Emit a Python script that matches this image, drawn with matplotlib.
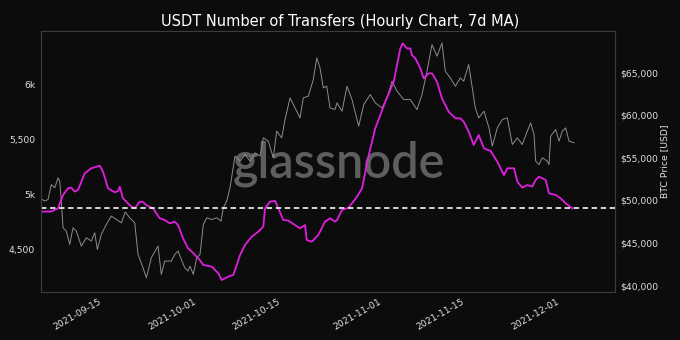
import numpy as np
import matplotlib
matplotlib.use('Agg')
import matplotlib.pyplot as plt
import matplotlib.dates as mdates
from matplotlib import ticker
import pandas as pd

# %%
# Datas em dias a partir de 2021-09-15
base_date = pd.Timestamp('2021-09-15')

usdt_days = [-10.47, -8.74, -7.56, -6.72, -5.88, -5.33, -4.76, -4.20, -3.08, -1.97,
             -0.55, 0.00, 0.84, 1.97, 2.52, 2.81, 3.36, 4.76, 5.33, 6.17,
             6.72, 7.28, 8.40, 9.53, 10.37, 11.21, 12.05, 12.61, 13.45, 14.29,
             14.91, 16.02, 16.86, 18.27, 19.38, 19.95, 21.06, 21.90, 22.47, 23.03,
             23.87, 24.99, 26.10, 26.94, 27.23, 28.07, 28.91, 29.46, 30.30, 31.14,
             32.27, 33.11, 33.95, 34.24, 35.08, 36.18, 37.31, 38.15, 38.99, 39.33,
             40.17, 41.29, 42.69, 43.53, 44.66, 45.76, 47.45, 48.86, 49.41, 49.97,
             50.37, 51.09, 51.65, 51.93, 52.49, 53.33, 53.90, 54.74, 55.29, 56.13,
             56.97, 58.10, 59.21, 60.05, 60.62, 61.46, 62.30, 63.14, 64.03, 65.16,
             66.27, 67.39, 67.95, 69.08, 69.63, 70.47, 71.31, 72.15, 72.72, 73.28,
             74.40, 74.96, 76.08, 76.92, 77.76, 78.87]
usdt_transfers = [4842, 4842, 4872, 4994, 5055, 5061, 5025, 5040, 5192, 5238,
                  5262, 5207, 5055, 5018, 5030, 5070, 4963, 4887, 4872, 4933,
                  4930, 4900, 4872, 4781, 4765, 4735, 4750, 4719, 4598, 4506,
                  4476, 4415, 4354, 4339, 4278, 4217, 4248, 4263, 4354, 4445,
                  4537, 4613, 4659, 4705, 4872, 4933, 4940, 4872, 4765, 4760,
                  4719, 4689, 4719, 4582, 4567, 4628, 4750, 4781, 4750, 4765,
                  4857, 4878, 4979, 5055, 5360, 5603, 5847, 6030, 6182, 6334,
                  6380, 6334, 6334, 6273, 6243, 6152, 6060, 6106, 6106, 6030,
                  5877, 5756, 5695, 5695, 5665, 5573, 5451, 5542, 5420, 5396,
                  5298, 5176, 5238, 5238, 5116, 5061, 5085, 5070, 5131, 5162,
                  5131, 5009, 4994, 4963, 4918, 4872]

btc_days = [-10.64, -9.80, -9.24, -8.69, -8.12, -7.56, -7.28, -7.01, -6.72, -6.17,
            -5.60, -5.04, -4.49, -3.65, -2.81, -1.97, -1.39, -0.96, -0.29, 0.55,
            1.39, 2.24, 3.08, 3.75, 4.49, 5.33, 5.88, 6.72, 7.28, 8.12,
            9.24, 9.80, 10.37, 11.48, 12.05, 12.61, 13.73, 14.29, 14.62, 15.18,
            15.75, 16.30, 16.86, 17.43, 18.27, 19.11, 19.83, 20.22, 20.79, 21.34,
            22.18, 23.03, 23.87, 24.71, 25.55, 26.39, 26.94, 27.78, 28.62, 29.19,
            30.03, 30.59, 31.43, 32.27, 33.11, 33.66, 34.50, 35.34, 35.92, 36.47,
            37.02, 37.60, 38.15, 38.99, 39.33, 40.17, 41.01, 41.85, 42.97, 43.82,
            44.92, 45.76, 46.89, 47.73, 48.57, 49.41, 50.54, 51.65, 52.77, 53.61,
            54.45, 55.29, 56.13, 56.97, 57.53, 58.37, 59.21, 60.05, 60.62, 61.46,
            62.02, 62.57, 63.14, 64.03, 64.87, 65.43, 66.27, 67.11, 67.95, 68.79,
            69.63, 70.47, 71.31, 71.88, 72.44, 72.72, 73.28, 73.83, 74.67, 74.96,
            75.24, 76.08, 76.64, 77.20, 77.76, 78.32, 79.16]
btc_price = [50317, 49930, 50117, 51878, 51491, 52665, 52278, 49930, 46795, 46407,
             44835, 46795, 46407, 44646, 45621, 45234, 46208, 44247, 46008, 47183,
             48168, 47770, 47382, 48638, 47969, 47382, 43660, 42099, 40925, 43273,
             44646, 41312, 42886, 42886, 43660, 44060, 42099, 41724, 42295, 41312,
             43273, 43660, 47183, 47969, 47770, 47969, 47582, 49143, 49930, 51491,
             55213, 54625, 55400, 54625, 55600, 55213, 57361, 56974, 55013, 58147,
             57361, 59509, 62057, 60883, 59709, 62057, 62257, 64205, 66753, 65579,
             63231, 63431, 60883, 60700, 61470, 60496, 63431, 61857, 58735, 61271,
             62445, 61470, 60883, 62057, 64018, 62844, 61857, 61857, 60684, 62445,
             65191, 68315, 66953, 68515, 65191, 64405, 63431, 64405, 64018, 65966,
             63431, 60883, 59709, 60496, 58535, 56387, 58535, 59509, 59709, 56574,
             57361, 56574, 58147, 59122, 57748, 54625, 54226, 55013, 54625, 54226,
             57561, 58335, 56974, 58147, 58535, 56974, 56774]

# nível atual (linha tracejada)
current_level = 4872

left_ticks = [4500, 5000, 5500, 6000]
left_labels = ['4,500', '5k', '5,500', '6k']
right_ticks = [40000, 45000, 50000, 55000, 60000, 65000]
x_ticks = ['2021-09-15', '2021-10-01', '2021-10-15', '2021-11-01', '2021-11-15', '2021-12-01']

# %%
usdt_dates = base_date + pd.to_timedelta(usdt_days, unit='D')
btc_dates = base_date + pd.to_timedelta(btc_days, unit='D')

bg = '#0c0c0c'
txt = '#e0e0e0'

fig = plt.figure(figsize=(6.8, 3.4), dpi=100, facecolor=bg)
ax2 = fig.add_axes([0.0599, 0.1412, 0.8445, 0.7685])
ax1 = ax2.twinx()
ax1.yaxis.tick_left()
ax2.yaxis.tick_right()
ax2.yaxis.set_label_position('right')
ax1.set_zorder(ax2.get_zorder() + 1)
ax1.patch.set_visible(False)
ax2.set_facecolor(bg)

# preço do BTC (cinza)
ax2.plot(btc_dates, btc_price, color='#8c8c8c', lw=0.7)
ax2.set_ylim(39250, 69950)
ax2.set_yticks(right_ticks)
ax2.yaxis.set_major_formatter(ticker.FuncFormatter(lambda v, p: '${:,.0f}'.format(v)))
ax2.set_ylabel('BTC Price [USD]', color=txt, fontsize=6.7, labelpad=1)

# marca d'água
ax2.text(0.519, 0.49, 'glassnode', transform=ax2.transAxes, ha='center', va='center',
         fontsize=35, color='#5e5e5e', family='Lato', weight='semibold', zorder=0.5)

# USDT (magenta)
ax1.plot(usdt_dates, usdt_transfers, color='#e01ee0', lw=1.3)
ax1.axhline(current_level, color='#e6e6e6', lw=1.3, ls=(0, (3, 2)))
ax1.set_ylim(4107, 6496)
ax1.set_yticks(left_ticks)
ax1.set_yticklabels(left_labels)

ax2.set_xlim(base_date + pd.Timedelta(days=-10.47), base_date + pd.Timedelta(days=86.05))
ax2.set_xticks(pd.to_datetime(x_ticks))
ax2.xaxis.set_major_formatter(mdates.DateFormatter('%Y-%m-%d'))
for lab in ax2.get_xticklabels():
    lab.set_rotation(30)
    lab.set_ha('right')

for a in (ax1, ax2):
    a.tick_params(colors=txt, labelsize=6.7, length=0, pad=4)
    for s in a.spines.values():
        s.set_color('#3c3c3c')
        s.set_linewidth(0.8)

fig.suptitle('USDT Number of Transfers (Hourly Chart, 7d MA)', color='white', fontsize=10.5, y=0.96)

fig.savefig('out.png', dpi=100, facecolor=bg)
